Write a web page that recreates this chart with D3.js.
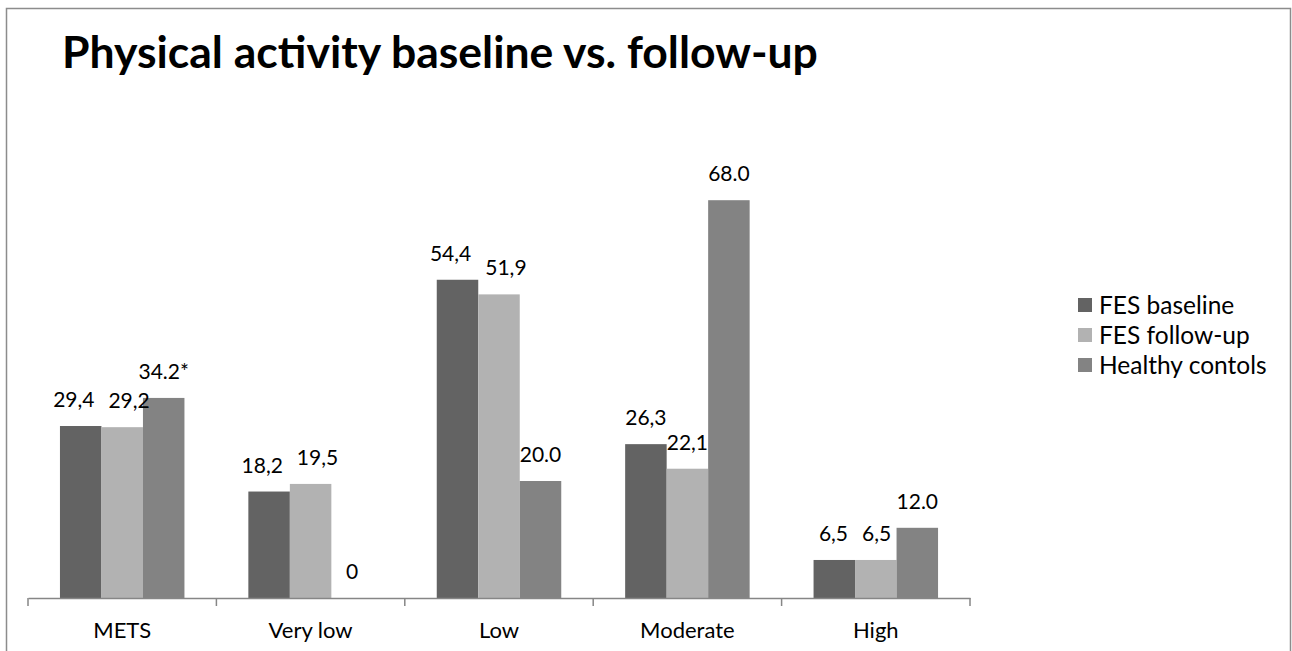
<!DOCTYPE html>
<html>
<head>
<meta charset="utf-8">
<script src="https://cdn.jsdelivr.net/npm/d3@7/dist/d3.min.js"></script>
<style>
  html, body { margin: 0; padding: 0; background: #fff; }
  svg { display: block; font-family: Lato, "Open Sans", sans-serif; }
</style>
</head>
<body>
<svg id="chart" width="1292" height="651"></svg>
<script>
// Physical activity categories and group values (%)
const categories = ["METS", "Very low", "Low", "Moderate", "High"];
const seriesNames = ["FES baseline", "FES follow-up", "Healthy contols"];
const fesBaseline = [29.4, 18.2, 54.4, 26.3, 6.5];
const fesFollowUp = [29.2, 19.5, 51.9, 22.1, 6.5];
const healthyControls = [34.2, 0, 20.0, 68.0, 12.0];
// Printed labels (baseline/follow-up use decimal commas, controls use points)
const labelsBaseline = ["29,4", "18,2", "54,4", "26,3", "6,5"];
const labelsFollowUp = ["29,2", "19,5", "51,9", "22,1", "6,5"];
const labelsControls = ["34.2*", "0", "20.0", "68.0", "12.0"];
const seriesColors = ["#636363", "#b2b2b2", "#838383"];

const series = [
  { name: seriesNames[0], values: fesBaseline, labels: labelsBaseline, color: seriesColors[0] },
  { name: seriesNames[1], values: fesFollowUp, labels: labelsFollowUp, color: seriesColors[1] },
  { name: seriesNames[2], values: healthyControls, labels: labelsControls, color: seriesColors[2] }
];

const svg = d3.select("#chart");

// outer chart frame
svg.append("rect")
  .attr("x", 6.5).attr("y", 8.5)
  .attr("width", 1284).attr("height", 700)
  .attr("fill", "#fff")
  .attr("stroke", "#8c8c8c").attr("stroke-width", 1.5);

// title
svg.append("text")
  .attr("x", 62).attr("y", 68)
  .attr("font-size", 44.5).attr("font-weight", "bold")
  .attr("fill", "#000")
  .text("Physical activity baseline vs. follow-up");

const plot = { left: 28, right: 970, top: 130, bottom: 598 };

const x0 = d3.scaleBand()
  .domain(categories)
  .range([plot.left, plot.right])
  .paddingInner(0).paddingOuter(0);

const x1 = d3.scaleBand()
  .domain(seriesNames)
  .range([0, x0.bandwidth()])
  .paddingOuter(0.77).paddingInner(0);

const y = d3.scaleLinear().domain([0, 80]).range([plot.bottom, plot.top]);

// bars
const groups = svg.append("g").selectAll("g")
  .data(series)
  .join("g")
  .attr("fill", d => d.color);

groups.selectAll("rect")
  .data(s => s.values.map((v, i) => ({ s, v, i })))
  .join("rect")
  .attr("x", d => x0(categories[d.i]) + x1(d.s.name))
  .attr("y", d => y(d.v))
  .attr("width", x1.bandwidth())
  .attr("height", d => y(0) - y(d.v));

// value labels above each bar
const labelData = [];
series.forEach(s => s.values.forEach((v, i) => labelData.push({ s, v, i })));
const labels = svg.append("g").selectAll("text")
  .data(labelData)
  .join("text")
  .attr("text-anchor", "middle")
  .attr("font-size", 21)
  .attr("fill", "#000")
  .text(d => d.s.labels[d.i]);

// place labels, then nudge neighbours in the same group apart so they don't crowd
labelData.forEach((d, k) => {
  d.cx = x0(categories[d.i]) + x1(d.s.name) + x1.bandwidth() / 2;
  d.by = y(d.v) - 19;
  d.w = labels.nodes()[k].getComputedTextLength();
});
categories.forEach((c, ci) => {
  const row = labelData.filter(d => d.i === ci).sort((a, b) => a.cx - b.cx);
  for (let iter = 0; iter < 30; iter++) {
    for (let j = 0; j < row.length - 1; j++) {
      const a = row[j], b = row[j + 1];
      if (Math.abs(a.by - b.by) > 22) continue;
      const gap = (b.cx - b.w / 2) - (a.cx + a.w / 2);
      const minGap = 14;
      if (gap < minGap) {
        const push = (minGap - gap) / 2;
        a.cx -= push; b.cx += push;
      }
    }
  }
});
labels.attr("x", d => d.cx).attr("y", d => d.by);

// category axis
const xAxis = d3.axisBottom(x0).tickSize(0).tickPadding(24);
const ax = svg.append("g")
  .attr("transform", `translate(0,${plot.bottom})`)
  .call(xAxis);
ax.select(".domain").attr("stroke", "#868686").attr("stroke-width", 1.5);
ax.selectAll(".tick text")
  .attr("font-family", "Lato, sans-serif")
  .attr("font-size", 22)
  .attr("fill", "#000");

// tick marks on category boundaries
const boundaries = categories.map(c => x0(c)).concat([plot.right]);
ax.selectAll("line.boundary")
  .data(boundaries)
  .join("line")
  .attr("class", "boundary")
  .attr("x1", d => d).attr("x2", d => d)
  .attr("y1", 0).attr("y2", 8)
  .attr("stroke", "#868686").attr("stroke-width", 1.5);

// legend
const legend = svg.append("g").attr("transform", "translate(1078,305)");
const items = legend.selectAll("g")
  .data(series)
  .join("g")
  .attr("transform", (d, i) => `translate(0,${i * 30})`);
items.append("rect")
  .attr("x", 0).attr("y", -7)
  .attr("width", 14).attr("height", 14)
  .attr("fill", d => d.color);
items.append("text")
  .attr("x", 21).attr("y", 0)
  .attr("dy", "0.35em")
  .attr("font-size", 24.5)
  .attr("fill", "#000")
  .text(d => d.name);
</script>
</body>
</html>
